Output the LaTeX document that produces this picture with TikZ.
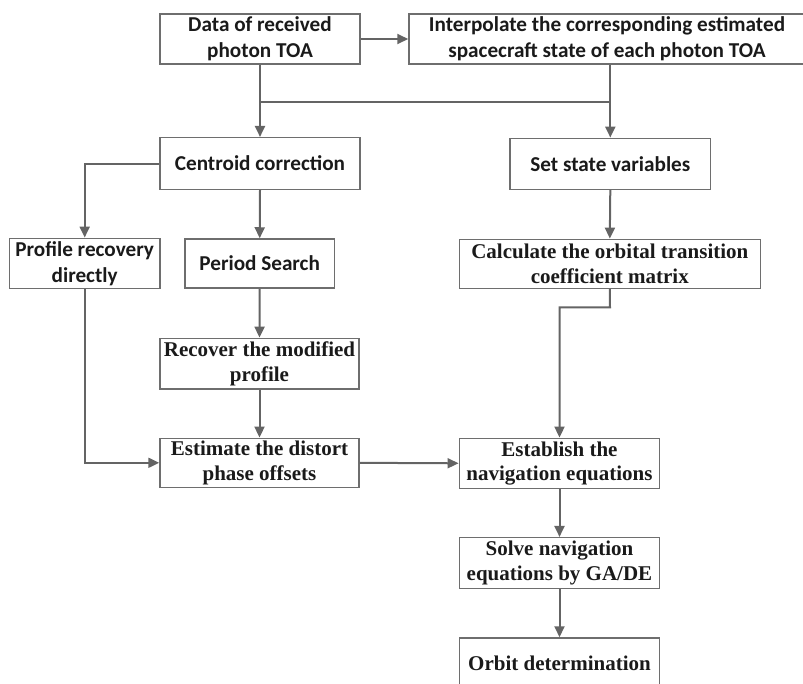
\documentclass[tikz,border=0pt]{standalone}
\usepackage{fontspec}
\setmainfont{Liberation Serif}
\newfontfamily\calfont{Carlito}
\usetikzlibrary{arrows.meta}
\definecolor{linec}{HTML}{646464}
\definecolor{boxc}{HTML}{6E6E6E}
\definecolor{textc}{HTML}{1A1A1A}
\begin{document}
\begin{tikzpicture}[x=1pt,y=-1pt,
  box/.style={draw=boxc, line width=1.5pt, inner sep=0pt, align=center, text=textc},
  sf/.style={font=\calfont\bfseries\fontsize{21.2}{26}\selectfont},
  sr/.style={font=\bfseries\fontsize{21}{24.5}\selectfont},
  conn/.style={draw=linec, line width=2pt},
  arr/.style={conn, -{Triangle[length=11pt,width=10pt]}}]
\useasboundingbox (0,0) rectangle (803,683);
\clip (0,0) rectangle (803,683);
\node[box,sf,minimum width=200pt,minimum height=50pt] (b1) at (260,39) {Data of received\\photon TOA};
\node[box,sf,minimum width=396pt,minimum height=50pt] (b2) at (607,39) {Interpolate the corresponding estimated\\spacecraft state of each photon TOA};
\node[box,sf,minimum width=200pt,minimum height=51.6pt] (c) at (260,163.5) {Centroid correction};
\node[box,sf,minimum width=200.7pt,minimum height=51pt] (s) at (610.3,163.8) {Set state variables};
\node[box,sf,minimum width=150.7pt,minimum height=50pt] (pr) at (84.7,263.3) {Profile recovery\\directly};
\node[box,sf,minimum width=149.3pt,minimum height=49pt] (ps) at (259.7,263.5) {Period Search};
\node[box,sr,minimum width=301pt,minimum height=49pt] (cm) at (609.8,263.8) {Calculate the orbital transition\\coefficient matrix};
\node[box,sr,minimum width=199pt,minimum height=50.7pt] (rm) at (259.5,363.7) {Recover the modified\\profile};
\node[box,sr,minimum width=199pt,minimum height=49pt] (ep) at (259.5,462.8) {Estimate the distort\\phase offsets};
\node[box,sr,minimum width=200.4pt,minimum height=50pt] (en) at (559.5,463.3) {Establish the\\navigation equations};
\node[box,sr,minimum width=200.4pt,minimum height=50.6pt] (sv) at (559.5,563) {Solve navigation\\equations by GA/DE};
\node[box,sr,minimum width=200.4pt,minimum height=50pt] (od) at (559.5,663) {Orbit determination};
\coordinate (j1) at (260,101.7);
\coordinate (k1) at (610,307.3);
\draw[arr] (b1) -- (b2);
\draw[conn] (b1.south) -- (j1) -- (j1 -| s.north);
\draw[conn] (b2.south -| s.north) -- (j1 -| s.north);
\draw[arr] (j1) -- (c.north);
\draw[arr] (j1 -| s.north) -- (s.north);
\draw[arr] (c.west) -| (pr.north);
\draw[arr] (c.south) -- (ps.north);
\draw[arr] (s.south) -- (cm.north);
\draw[arr] (ps.south) -- (rm.north);
\draw[arr] (rm.south) -- (ep.north);
\draw[arr] (pr.south) |- (ep.west);
\draw[arr] (ep.east) -- (en.west);
\draw[arr] (cm.south) -- (k1) -| (en.north);
\draw[arr] (en.south) -- (sv.north);
\draw[arr] (sv.south) -- (od.north);
\end{tikzpicture}
\end{document}
